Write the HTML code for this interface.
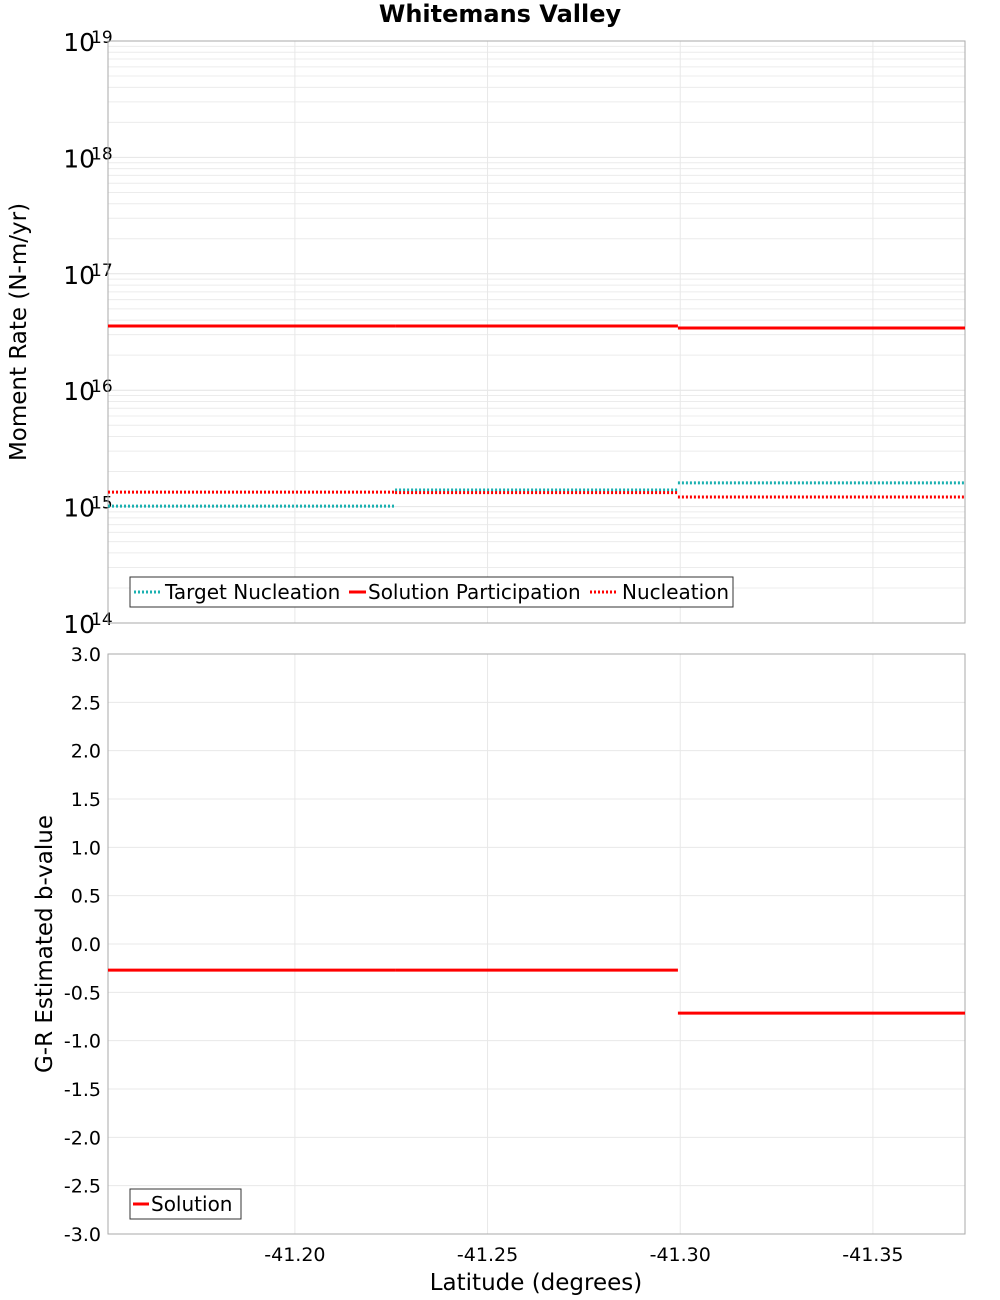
<!DOCTYPE html>
<html><head><meta charset="utf-8"><style>
body{margin:0;background:#fff;}
svg{display:block;font-family:"DejaVu Sans","Liberation Sans",sans-serif;}
</style></head><body>
<svg id="c" width="1000" height="1300" xmlns="http://www.w3.org/2000/svg"></svg>
<script>
// data
const segBounds = [-41.1515, -41.226, -41.2994, -41.3739];
const participation = [3.56e16, 3.56e16, 3.42e16];
const targetNucleation = [1.01e15, 1.39e15, 1.60e15];
const nucleation = [1.33e15, 1.32e15, 1.21e15];
const bValues = [-0.27, -0.27, -0.715];
const xTicks = [-41.20, -41.25, -41.30, -41.35];
const xTickLabels = ["-41.20", "-41.25", "-41.30", "-41.35"];
const decades = [14, 15, 16, 17, 18, 19];
const bTicks = [-3, -2.5, -2, -1.5, -1, -0.5, 0, 0.5, 1, 1.5, 2, 2.5, 3];

const NS = "http://www.w3.org/2000/svg";
const svg = document.getElementById('c');
const L = 108, R = 965, T1 = 41, B1 = 623, T2 = 654, B2 = 1234;
const xS = v => L + (v - segBounds[0]) / (segBounds[3] - segBounds[0]) * (R - L);
const yLog = v => B1 - (Math.log10(v) - 14) / 5 * (B1 - T1);
const yB = v => B2 - (v + 3) / 6 * (B2 - T2);
function el(tag, attrs, parent) {
  const e = document.createElementNS(NS, tag);
  for (const k in attrs) e.setAttribute(k, attrs[k]);
  (parent || svg).appendChild(e);
  return e;
}
function txt(s, attrs, parent) { const e = el('text', attrs, parent); e.textContent = s; return e; }

// title
const title = txt('Whitemans Valley', {x: 500, y: 22, 'text-anchor': 'middle', 'font-size': 24, 'font-weight': 'bold'});



// top plot
const g1 = el('g', {});


for (let d = 14; d < 19; d++) {
  for (let m = 2; m <= 9; m++) {
    const y = yLog(m * Math.pow(10, d));
    el('line', {x1: L, x2: R, y1: y, y2: y, stroke: '#ececec', 'stroke-width': 1}, g1);
  }
}
decades.forEach(d => {
  const y = yLog(Math.pow(10, d));
  el('line', {x1: L, x2: R, y1: y, y2: y, stroke: '#e4e4e4', 'stroke-width': 1}, g1);
  const t = txt('10', {x: 95, y: y + 10, 'text-anchor': 'end', 'font-size': 25}, g1);
  
  
  const s = txt(String(d), {x: 91, y: y + 2, 'font-size': 17}, g1);
  
  
});
xTicks.forEach(v => el('line', {x1: xS(v), x2: xS(v), y1: T1, y2: B1, stroke: '#e8e8e8'}, g1));
el('rect', {x: L, y: T1, width: R - L, height: B1 - T1, fill: 'none', stroke: '#aaa'}, g1);

function steps(arr, yf, color, dash, name, parent) {
  arr.forEach((v, i) => {
    const ln = el('line', {x1: xS(segBounds[i]), x2: xS(segBounds[i + 1]), y1: yf(v), y2: yf(v), stroke: color, 'stroke-width': 3}, parent);
    if (dash) ln.setAttribute('stroke-dasharray', '2,2');
    
    
  });
}
steps(targetNucleation, yLog, '#1ab0b0', true, 'target-nucleation', g1);
steps(nucleation, yLog, '#ff0000', true, 'nucleation', g1);
steps(participation, yLog, '#ff0000', false, 'solution-participation', g1);

const yt1 = txt('Moment Rate (N-m/yr)', {x: 0, y: 0, transform: 'translate(26,332) rotate(-90)', 'text-anchor': 'middle', 'font-size': 23});



// legend top
const lg = el('g', {});


el('rect', {x: 130, y: 577, width: 603, height: 30, fill: '#fff', stroke: '#333'}, lg);
el('line', {x1: 134, x2: 160, y1: 592, y2: 592, stroke: '#1ab0b0', 'stroke-width': 3, 'stroke-dasharray': '2,2'}, lg);
txt('Target Nucleation', {x: 165, y: 599, 'font-size': 20}, lg);
el('line', {x1: 349, x2: 366, y1: 592, y2: 592, stroke: '#ff0000', 'stroke-width': 3}, lg);
txt('Solution Participation', {x: 368, y: 599, 'font-size': 20}, lg);
el('line', {x1: 590, x2: 618, y1: 592, y2: 592, stroke: '#ff0000', 'stroke-width': 3, 'stroke-dasharray': '2,2'}, lg);
txt('Nucleation', {x: 622, y: 599, 'font-size': 20}, lg);

// bottom plot
const g2 = el('g', {});


bTicks.forEach(v => {
  const y = yB(v);
  el('line', {x1: L, x2: R, y1: y, y2: y, stroke: '#e8e8e8'}, g2);
  const t = txt(v.toFixed(1), {x: 101, y: y + 7, 'text-anchor': 'end', 'font-size': 19}, g2);
  
  
});
xTicks.forEach((v, i) => {
  el('line', {x1: xS(v), x2: xS(v), y1: T2, y2: B2, stroke: '#e8e8e8'}, g2);
  const t = txt(xTickLabels[i], {x: xS(v), y: 1261, 'text-anchor': 'middle', 'font-size': 19}, g2);
  
  
});
el('rect', {x: L, y: T2, width: R - L, height: B2 - T2, fill: 'none', stroke: '#aaa'}, g2);
steps(bValues, yB, '#ff0000', false, 'b-value', g2);

const yt2 = txt('G-R Estimated b-value', {x: 0, y: 0, transform: 'translate(52,944) rotate(-90)', 'text-anchor': 'middle', 'font-size': 23});


const xt = txt('Latitude (degrees)', {x: 536, y: 1290, 'text-anchor': 'middle', 'font-size': 23});



const lg2 = el('g', {});


el('rect', {x: 130, y: 1189, width: 111, height: 30, fill: '#fff', stroke: '#333'}, lg2);
el('line', {x1: 133, x2: 149, y1: 1204, y2: 1204, stroke: '#ff0000', 'stroke-width': 3}, lg2);
txt('Solution', {x: 151, y: 1211, 'font-size': 20}, lg2);
</script>
</body></html>
